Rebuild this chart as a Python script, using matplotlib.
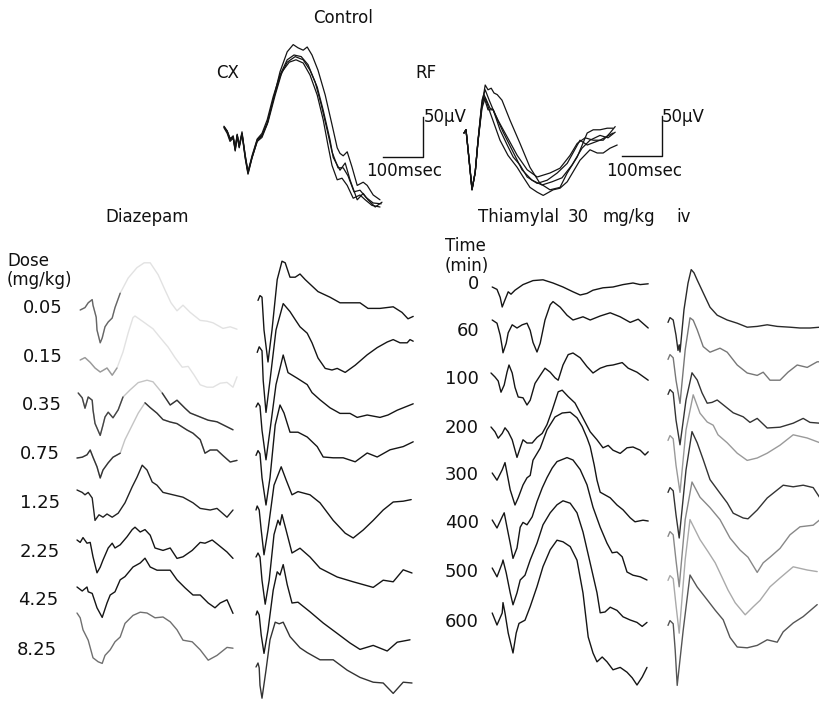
import numpy as np
import matplotlib
matplotlib.use("Agg")
import matplotlib.pyplot as plt

# traces: (time in msec, amplitude in uV) from each sweep's start
# scale bars in the figure: 100 msec and 50 uV

ctrl_cx = [
    [(0,0),(8,-6),(15,-16),(23,-13),(28,-29),(33,-10),(38,-25),(45,-8),(53,-38),(60,-58),(70,-38),(83,-16),(95,-10),(108,5),(123,34),(140,63),(158,81),(178,88),(198,84),(215,71),(233,50),(248,21),(265,-16),(273,-38),(290,-54),(303,-45),(315,-66),(333,-91),(348,-83),(360,-91),(378,-100),(395,-94)],
    [(0,0),(8,-5),(15,-15),(23,-11),(28,-26),(33,-9),(38,-24),(45,-6),(53,-36),(60,-56),(70,-38),(83,-18),(95,-11),(108,4),(123,34),(140,69),(158,94),(173,103),(185,99),(198,96),(208,100),(220,90),(235,71),(253,40),(270,3),(283,-26),(290,-33),(298,-36),(308,-31),(320,-50),(333,-73),(348,-69),(358,-73),(373,-85),(390,-91)],
    [(0,-1),(8,-8),(15,-18),(23,-14),(28,-30),(33,-11),(38,-26),(45,-9),(53,-39),(60,-59),(70,-39),(83,-18),(95,-13),(110,6),(128,40),(145,69),(163,81),(180,84),(198,80),(215,65),(233,40),(248,9),(260,-23),(270,-48),(283,-66),(295,-64),(308,-73),(323,-89),(340,-85),(353,-91),(370,-98),(390,-100)],
    [(0,1),(8,-5),(15,-14),(23,-13),(28,-28),(33,-10),(38,-23),(45,-8),(53,-35),(60,-56),(70,-36),(83,-15),(95,-8),(108,9),(123,38),(140,65),(158,84),(175,90),(193,88),(210,78),(228,56),(243,28),(258,-4),(270,-31),(285,-51),(298,-51),(310,-61),(325,-81),(340,-79),(355,-88),(373,-95),(393,-96)],
]

ctrl_rf = [
    [(0,0),(5,4),(10,-19),(18,-59),(20,-71),(28,-49),(35,-9),(43,29),(53,60),(60,54),(68,56),(75,50),(83,48),(95,41),(115,16),(140,-13),(165,-43),(190,-63),(215,-71),(240,-68),(258,-50),(283,-30),(308,0),(323,4),(340,4),(358,6),(373,6)],
    [(0,0),(5,4),(10,-20),(20,-71),(28,-49),(35,-11),(45,35),(50,48),(58,39),(65,31),(73,29),(90,4),(108,-15),(123,-30),(140,-40),(158,-55),(183,-63),(208,-59),(233,-50),(258,-38),(290,-9),(308,-15),(340,-9),(373,0)],
    [(0,0),(5,4),(10,-21),(20,-71),(28,-50),(35,-11),(45,31),(53,44),(65,26),(90,-9),(110,-28),(133,-43),(148,-55),(165,-68),(183,-74),(198,-78),(223,-71),(240,-69),(258,-61),(290,-34),(315,-21),(333,-25),(348,-25),(365,-19),(383,-15)],
    [(0,0),(5,4),(10,-20),(20,-70),(28,-49),(35,-10),(45,35),(50,45),(60,29),(73,29),(85,16),(108,-5),(133,-28),(158,-46),(183,-55),(215,-50),(240,-44),(265,-28),(283,-13),(303,-6),(323,-9),(348,-9),(365,0),(378,8)],
    [(0,0),(5,4),(10,-20),(20,-70),(28,-49),(35,-10),(45,41),(53,54),(63,41),(78,23),(98,1),(120,-21),(145,-46),(170,-59),(195,-65),(220,-61),(245,-56),(270,-40),(295,-19),(315,-9),(340,-3),(360,-6),(378,1)],
]

diaz_cx = [
    [(8,0),(20,3),(28,9),(38,13),(40,6),(48,-9),(50,-25),(58,-41),(63,-35),(70,-21),(78,-15),(88,-10),(95,3),(108,21),(128,40),(150,53),(168,59),(183,59),(203,44),(220,25),(235,9),(250,-1),(265,6),(283,-3),(308,-13),(325,-14),(340,-16),(365,-23),(383,-21),(400,-24)],
    [(8,0),(20,3),(33,-3),(45,-10),(58,-15),(65,-13),(75,-10),(88,-19),(100,-10),(115,10),(128,34),(140,53),(145,55),(165,48),(190,39),(208,28),(228,16),(245,3),(263,-9),(278,-8),(293,-19),(308,-31),(325,-34),(340,-34),(358,-29),(375,-28),(390,-34),(400,-21)],
    [(3,0),(13,-6),(20,-19),(28,-5),(38,-9),(40,-21),(45,-38),(58,-53),(65,-40),(70,-30),(78,-24),(90,-31),(103,-21),(115,-5),(133,4),(153,13),(175,16),(190,14),(213,0),(233,-15),(250,-9),(270,-19),(283,-25),(308,-30),(328,-34),(350,-36),(370,-41),(390,-46)],
    [(0,0),(13,1),(25,4),(33,10),(40,1),(50,-11),(58,-25),(65,-15),(78,-6),(90,1),(108,6),(120,23),(138,41),(153,56),(170,69),(183,63),(200,56),(215,48),(233,45),(250,43),(275,35),(290,31),(308,23),(320,6),(333,10),(350,10),(365,3),(383,-5),(400,-3)],
    [(0,0),(13,-3),(20,-6),(28,-3),(38,-10),(45,-38),(55,-31),(65,-34),(75,-30),(88,-34),(103,-29),(120,-16),(138,4),(150,16),(163,31),(175,25),(188,10),(200,6),(215,-3),(240,-6),(265,-9),(290,-16),(308,-23),(333,-25),(350,-23),(375,-34),(390,-25)],
    [(0,0),(8,-3),(15,3),(25,-4),(33,-3),(40,-21),(50,-41),(58,-34),(65,-25),(78,-10),(88,-4),(95,-10),(108,-6),(125,4),(138,13),(145,16),(158,10),(170,13),(183,6),(195,-10),(215,-13),(233,-10),(250,-23),(265,-21),(288,-13),(308,-3),(320,-4),(338,0),(353,-6),(375,-15),(390,-23)],
    [(0,0),(13,-5),(25,0),(28,-6),(38,-8),(50,-26),(63,-38),(75,-20),(83,-10),(95,-6),(108,9),(120,13),(140,25),(158,30),(170,36),(183,25),(200,21),(215,21),(233,21),(250,9),(270,-1),(290,-10),(308,-10),(328,-20),(345,-26),(358,-20),(375,-16),(390,-33)],
    [(0,0),(8,-6),(15,-21),(28,-34),(40,-56),(53,-61),(63,-63),(70,-53),(83,-46),(95,-36),(108,-30),(120,-13),(140,-3),(158,1),(175,0),(195,-6),(215,-5),(233,-11),(250,-21),(265,-34),(288,-36),(308,-46),(328,-59),(350,-53),(375,-43),(390,-44)],
]

diaz_rf = [
    [(5,-3),(10,3),(15,1),(20,-40),(30,-80),(40,-40),(53,23),(65,46),(73,44),(85,26),(98,26),(110,30),(123,23),(155,8),(185,1),(210,-6),(235,-6),(260,-6),(280,-13),(310,-13),(343,-11),(365,-18),(380,-26),(393,-23)],
    [(3,-3),(8,4),(15,-1),(18,-38),(25,-78),(35,-38),(50,25),(68,58),(85,48),(98,38),(110,29),(128,21),(140,9),(155,-10),(173,-23),(190,-25),(203,-23),(223,-28),(248,-19),(278,-6),(303,3),(328,10),(343,13),(360,9),(378,9),(385,13),(393,11)],
    [(0,0),(5,5),(10,1),(15,-29),(25,-66),(35,-29),(50,28),(68,65),(80,43),(103,36),(128,28),(140,18),(160,9),(185,-1),(210,-8),(235,-8),(253,-13),(278,-10),(310,-13),(330,-10),(353,-4),(378,1),(393,4)],
    [(0,-3),(5,3),(10,-1),(15,-31),(25,-65),(35,-31),(48,35),(60,60),(70,50),(85,26),(105,26),(128,20),(153,8),(168,-5),(193,-6),(218,-6),(248,-11),(278,0),(303,-5),(335,4),(368,8),(393,14)],
    [(0,0),(3,5),(8,0),(13,-25),(20,-56),(30,-25),(45,31),(63,54),(75,38),(90,19),(105,23),(135,19),(160,9),(193,-13),(223,-29),(243,-35),(268,-25),(293,-13),(318,0),(343,10),(368,11),(388,13)],
    [(0,0),(5,5),(10,0),(15,-29),(23,-59),(33,-29),(45,28),(55,46),(60,40),(65,53),(75,34),(90,5),(110,11),(135,0),(160,-14),(203,-25),(243,-31),(293,-38),(318,-29),(343,-31),(368,-16),(390,-20)],
    [(0,0),(3,5),(8,0),(13,-25),(20,-48),(30,-19),(43,31),(53,54),(60,50),(68,63),(78,38),(90,15),(105,16),(135,4),(168,-10),(203,-23),(235,-35),(260,-43),(293,-38),(328,-45),(353,-34),(385,-31)],
    [(0,0),(5,5),(8,-1),(10,-23),(15,-39),(25,-4),(35,34),(48,56),(58,54),(68,56),(85,38),(110,24),(128,18),(160,9),(193,9),(228,-4),(260,-13),(293,-19),(318,-20),(343,-33),(368,-19),(390,-20)],
]

thia_cx = [
    [(3,0),(15,-3),(23,-13),(28,-25),(35,-16),(43,-6),(50,-9),(60,-4),(80,3),(105,8),(130,9),(155,5),(180,0),(205,-6),(223,-10),(240,-8),(255,-4),(280,-1),(305,0),(330,3),(355,5),(373,3),(393,4)],
    [(3,0),(15,-4),(23,-19),(28,-34),(30,-41),(38,-29),(43,-16),(53,-6),(65,-10),(78,-6),(90,-4),(98,-13),(105,-28),(115,-40),(123,-29),(135,0),(148,19),(155,23),(173,16),(190,6),(205,0),(230,4),(248,0),(273,5),(298,9),(323,4),(348,-3),(368,1),(393,-10)],
    [(0,0),(10,-5),(18,-10),(25,-24),(33,-15),(40,1),(45,10),(53,0),(60,-18),(68,-30),(80,-31),(90,-40),(98,-34),(110,-13),(123,-3),(135,6),(148,1),(160,-6),(168,-9),(180,10),(193,23),(205,25),(223,19),(240,8),(255,0),(273,6),(290,9),(305,10),(328,13),(343,6),(365,1),(393,-9)],
    [(0,0),(10,-6),(18,-14),(28,-8),(35,-1),(43,-6),(53,-16),(65,-38),(73,-26),(80,-16),(90,-20),(103,-20),(115,-13),(128,-8),(140,3),(153,21),(168,44),(178,46),(193,38),(210,30),(228,13),(248,-6),(265,-16),(280,-26),(293,-23),(305,-29),(323,-33),(340,-26),(355,-25),(373,-29),(385,-35),(393,-31)],
    [(3,0),(15,-9),(28,4),(35,13),(40,0),(48,-21),(60,-40),(68,-31),(80,-15),(90,-6),(98,-3),(105,16),(123,31),(140,54),(160,70),(178,75),(198,76),(215,69),(228,58),(240,44),(248,33),(258,10),(265,-9),(273,-24),(298,-31),(315,-40),(330,-46),(348,-56),(360,-61),(380,-59),(393,-60)],
    [(3,0),(15,-10),(28,4),(33,9),(40,-9),(48,-29),(55,-48),(65,-35),(73,-9),(80,-3),(90,-6),(103,4),(115,23),(128,40),(140,53),(153,65),(165,73),(190,78),(205,75),(223,63),(240,44),(255,16),(273,-9),(290,-29),(303,-41),(315,-40),(328,-46),(340,-65),(355,-69),(373,-71),(390,-75)],
    [(3,0),(15,-11),(28,6),(30,10),(38,-6),(48,-31),(55,-46),(65,-31),(73,-15),(85,-9),(98,10),(115,31),(130,54),(148,69),(165,79),(180,84),(198,81),(215,69),(230,45),(248,6),(265,-31),(273,-56),(285,-55),(298,-49),(315,-53),(330,-61),(348,-65),(365,-68),(378,-73),(390,-68)],
    [(3,0),(15,-15),(28,0),(30,13),(35,0),(43,-25),(55,-50),(63,-25),(70,-13),(85,-9),(98,8),(115,33),(130,58),(148,79),(165,91),(180,89),(198,83),(215,66),(230,25),(243,-30),(255,-50),(265,-61),(278,-55),(290,-61),(305,-71),(323,-68),(340,-74),(353,-81),(365,-90),(378,-80),(390,-68)],
]

thia_rf = [
    [(0,-3),(5,3),(13,0),(20,-19),(25,-38),(28,-31),(30,-40),(40,13),(50,46),(58,63),(65,59),(73,50),(88,34),(105,16),(123,6),(148,0),(173,-4),(198,-9),(223,-8),(248,-6),(273,-8),(305,-9),(330,-10),(355,-10),(380,-9)],
    [(0,-3),(5,3),(13,-1),(20,-29),(30,-58),(43,9),(55,49),(63,46),(73,34),(88,13),(105,6),(130,11),(148,6),(173,-10),(198,-20),(223,-23),(238,-19),(255,-29),(280,-29),(300,-19),(323,-10),(348,-13),(373,-6),(380,-6)],
    [(0,-3),(5,3),(13,-1),(20,-35),(30,-66),(45,-10),(60,24),(73,15),(85,-1),(98,-14),(110,-13),(123,-10),(138,-16),(163,-26),(188,-31),(205,-38),(223,-33),(248,-45),(280,-44),(313,-39),(338,-33),(355,-38),(380,-39)],
    [(0,-3),(5,3),(13,-1),(20,-34),(30,-68),(45,10),(63,54),(80,31),(98,20),(113,16),(125,4),(148,-6),(173,-19),(198,-28),(223,-25),(248,-19),(280,-9),(313,4),(348,0),(380,-6)],
    [(0,-3),(5,3),(13,-1),(20,-31),(28,-60),(45,25),(60,73),(73,59),(88,38),(105,13),(130,-4),(148,-16),(163,-29),(188,-35),(200,-36),(223,-25),(248,-10),(273,0),(288,6),(313,4),(338,6),(363,3),(380,-10)],
    [(0,-3),(5,3),(13,-1),(20,-33),(28,-66),(43,18),(60,65),(80,46),(105,33),(130,18),(155,-5),(180,-20),(200,-29),(223,-48),(238,-36),(255,-29),(280,-18),(305,-1),(330,9),(363,11),(380,18)],
    [(0,-3),(5,3),(13,-1),(20,-34),(28,-69),(43,23),(55,73),(80,48),(100,33),(118,19),(135,1),(150,-15),(168,-31),(193,-46),(213,-36),(230,-28),(255,-11),(280,0),(313,14),(348,10),(373,8)],
    [(0,-3),(5,3),(13,-1),(18,-34),(23,-78),(38,-9),(55,60),(73,45),(98,29),(118,16),(138,4),(155,-18),(173,-30),(198,-31),(223,-28),(248,-21),(273,-24),(288,-11),(313,0),(338,8),(373,23)],
]

doses = ["0.05", "0.15", "0.35", "0.75", "1.25", "2.25", "4.25", "8.25"]
times = ["0", "60", "100", "200", "300", "400", "500", "600"]

# layout in pixels of the 820x701 page
MS_PER_PX = 2.5
UV_PER_PX = 1.25
W, H = 820, 701

diaz_cx_y = [310, 360, 393, 458, 490, 540, 587, 613]
diaz_rf_y = [298, 350, 407, 453, 510, 557, 615, 667]
thia_cx_y = [287, 320, 373, 427, 473, 520, 568, 613]
thia_rf_y = [320, 357, 392, 438, 490, 534, 578, 623]
dose_y = [308, 357, 405, 454, 503, 552, 600, 650]
dose_x = [63, 63, 62, 60, 60, 60, 58, 57]
time_y = [284, 331, 379, 428, 475, 523, 572, 622]

# poorly printed sweeps: pale base line, darker pieces (point index ranges) on top
diaz_cx_col = ["#e2e2e2", "#e2e2e2", "#c4c4c4", "#c4c4c4", "#222222", "#151515", "#151515", "#707070"]
diaz_cx_dark = {
    0: [(0, 14, "#666666")],
    1: [(0, 9, "#9a9a9a")],
    2: [(0, 14, "#444444"), (18, 28, "#333333")],
    3: [(0, 11, "#333333"), (14, 29, "#333333")],
}
diaz_rf_col = ["#151515"] * 7 + ["#333333"]
thia_cx_col = ["#151515"] * 8
thia_rf_col = ["#2a2a2a", "#777777", "#333333", "#9a9a9a", "#333333", "#888888", "#aaaaaa", "#555555"]

fig = plt.figure(figsize=(W / 100, H / 100), dpi=100)
ax = fig.add_axes([0, 0, 1, 1])
ax.set_xlim(0, W * MS_PER_PX)
ax.set_ylim(-H * UV_PER_PX, 0)
ax.axis("off")


def draw(trace, x0, y0, color="#151515", lw=1.0):
    t = np.array([p[0] for p in trace]) + x0 * MS_PER_PX
    v = np.array([p[1] for p in trace]) - y0 * UV_PER_PX
    ax.plot(t, v, color=color, lw=lw, solid_joinstyle="round", solid_capstyle="round")


def label(x, y, s, size=12, **kw):
    kw.setdefault("va", "center")
    ax.text(x * MS_PER_PX, -y * UV_PER_PX, s, fontsize=size, color="#111111", **kw)


def scale_bar(x, y):
    # 100 msec horizontal, 50 uV vertical, corner at (x, y)
    cx, cy = x * MS_PER_PX, -y * UV_PER_PX
    ax.plot([cx - 100, cx, cx], [cy, cy, cy + 50], color="#111111", lw=1.0)


for tr in ctrl_cx:
    draw(tr, 224, 127, lw=0.9)
for tr in ctrl_rf:
    draw(tr, 464, 133, lw=0.9)

for i in range(8):
    draw(diaz_cx[i], 77, diaz_cx_y[i], diaz_cx_col[i])
    for a, b, c in diaz_cx_dark.get(i, []):
        draw(diaz_cx[i][a:b], 77, diaz_cx_y[i], c)
    draw(diaz_rf[i], 256, diaz_rf_y[i], diaz_rf_col[i])
    draw(thia_cx[i], 491, thia_cx_y[i], thia_cx_col[i])
    draw(thia_rf[i], 668, thia_rf_y[i], thia_rf_col[i])

scale_bar(423, 157)
scale_bar(662, 156)

label(343, 18, "Control", ha="center")
label(228, 73, "CX", ha="center")
label(426, 73, "RF", ha="center")
label(424, 117, "50\u00b5V")
label(366, 171, "100msec")
label(662, 117, "50\u00b5V")
label(606, 171, "100msec")

label(105, 217, "Diazepam")
label(478, 217, "Thiamylal")
label(568, 217, "30")
label(603, 217, "mg/kg")
label(676, 217, "iv")

label(7, 261, "Dose")
label(7, 280, "(mg/kg)")
for d, yy, xx in zip(doses, dose_y, dose_x):
    label(xx, yy, d, size=13, ha="right")

label(445, 246, "Time")
label(445, 266, "(min)")
for tm, yy in zip(times, time_y):
    label(479, yy, tm, size=13, ha="right")

fig.savefig("out.png", dpi=100, facecolor="white")
